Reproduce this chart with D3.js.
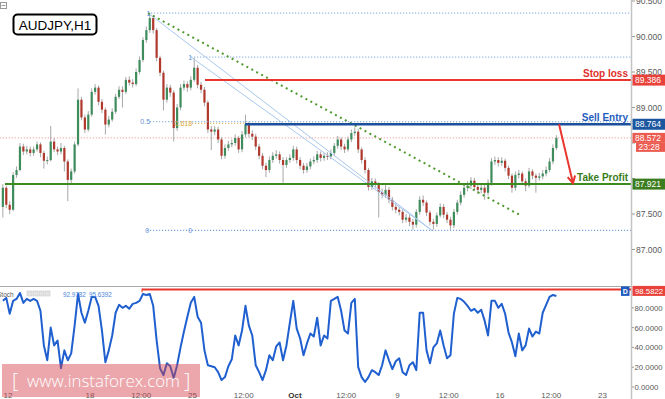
<!DOCTYPE html>
<html lang="en">
<head>
<meta charset="UTF-8">
<title>AUDJPY,H1</title>
<script src="https://d3js.org/d3.v7.min.js"></script>
<style>
body { margin: 0; background: #fff; font-family: "Liberation Sans", Arial, sans-serif; }
svg { display: block; }
</style>
</head>
<body>
<script>
// 4-hour bars. bar i opens at closes[i] and closes at closes[i+1]
var closes = [87.60, 87.87,87.63,87.56,88.05,88.12,88.45,88.38,88.41,88.36,88.41,
  88.48,88.36,88.25,88.26,88.52,88.41,88.38,88.43,88.24,87.98,
  88.10,88.48,89.11,88.86,88.69,88.90,89.22,89.28,89.08,88.97,
  88.76,88.83,88.94,89.15,89.25,89.22,89.39,89.35,89.33,89.50,
  89.67,89.95,90.09,90.26,90.09,89.70,89.49,89.11,89.28,89.21,
  88.71,89.00,89.28,89.33,89.28,89.39,89.56,89.32,89.25,89.07,
  88.69,88.66,88.69,88.55,88.32,88.43,88.48,88.50,88.57,88.41,
  88.62,88.76,88.63,88.59,88.45,88.32,88.18,88.12,88.26,88.32,
  88.34,88.26,88.19,88.26,88.29,88.41,88.26,88.18,88.12,88.17,
  88.24,88.26,88.34,88.29,88.32,88.31,88.36,88.46,88.55,88.45,
  88.41,88.55,88.64,88.66,88.41,88.26,88.12,87.88,87.96,87.91,
  87.81,87.77,87.84,87.70,87.60,87.56,87.53,87.42,87.45,87.39,
  87.35,87.53,87.70,87.66,87.52,87.39,87.36,87.48,87.60,87.49,
  87.42,87.34,87.53,87.66,87.77,87.87,87.90,87.97,87.88,87.84,
  87.87,87.80,87.94,88.24,88.26,88.22,88.25,88.15,88.04,87.87,
  88.05,88.07,87.96,87.90,88.10,88.04,88.01,88.03,88.07,88.12,
  88.24,88.43,88.57];

var highs = [87.92,87.90,87.68,88.09,88.17,88.50,88.49,88.46,88.45,88.45,
  88.52,88.51,88.39,88.31,88.74,88.57,88.45,88.50,88.46,88.27,
  88.14,88.52,89.27,89.15,88.90,88.95,89.27,89.33,89.31,89.12,
  89.00,88.88,88.99,89.19,89.30,89.30,89.43,89.44,89.40,89.55,
  89.72,89.99,90.14,90.33,90.30,90.12,89.73,89.52,89.33,89.32,
  89.24,89.05,89.33,89.38,89.37,89.44,89.70,89.60,89.36,89.29,
  89.10,88.74,88.74,88.73,88.58,88.48,88.53,88.55,88.62,88.60,
  88.67,88.90,88.80,88.68,88.63,88.49,88.36,88.22,88.31,88.37,
  88.40,88.38,88.30,88.30,88.34,88.46,88.45,88.30,88.22,88.22,
  88.28,88.31,88.39,88.38,88.36,88.37,88.41,88.50,88.60,88.58,
  88.49,88.59,88.69,88.72,88.70,88.44,88.30,88.15,88.01,88.00,
  87.95,87.86,87.92,87.88,87.74,87.65,87.60,87.57,87.50,87.49,
  87.43,87.57,87.75,87.76,87.69,87.55,87.43,87.52,87.65,87.64,
  87.53,87.46,87.57,87.70,87.82,87.92,87.96,88.02,88.01,87.93,
  87.93,87.91,87.99,88.29,88.31,88.30,88.30,88.28,88.18,88.07,
  88.10,88.12,88.10,88.00,88.15,88.13,88.07,88.08,88.12,88.17,
  88.29,88.48,88.61];

var lows = [87.45,87.58,87.50,87.54,88.01,88.10,88.33,88.34,88.31,88.32,
  88.38,88.30,88.14,88.20,88.24,88.37,88.33,88.34,88.10,87.68,
  87.93,88.07,88.45,88.82,88.64,88.66,88.87,89.18,89.03,88.92,
  88.62,88.72,88.80,88.91,89.12,89.00,89.19,89.31,89.28,89.30,
  89.47,89.64,89.91,90.05,90.04,89.65,89.44,88.96,89.07,89.15,
  88.52,88.67,88.96,89.24,89.22,89.24,89.36,89.27,89.20,89.02,
  88.64,88.40,88.61,88.50,88.27,88.28,88.39,88.44,88.46,88.36,
  88.37,88.58,88.58,88.54,88.40,88.27,88.13,88.02,88.08,88.22,
  88.28,88.21,87.94,88.15,88.22,88.25,88.21,88.13,88.07,88.08,
  88.13,88.20,88.22,88.24,88.25,88.26,88.27,88.32,88.42,88.40,
  88.36,88.38,88.51,88.60,88.36,88.21,88.07,87.83,87.84,87.86,
  87.45,87.72,87.73,87.65,87.55,87.51,87.48,87.37,87.38,87.33,
  87.28,87.31,87.49,87.61,87.47,87.34,87.28,87.32,87.45,87.44,
  87.37,87.28,87.30,87.49,87.62,87.73,87.82,87.85,87.83,87.78,
  87.79,87.70,87.76,87.90,88.19,88.17,88.18,88.10,87.99,87.80,
  87.83,88.00,87.91,87.82,87.87,87.99,87.80,87.97,87.99,88.03,
  88.09,88.20,88.40];

// stochastic %K, one value per bar
var stoch = [87,90,74,87,89,95,85,89,87,89,
  87,77,42,27,60,42,47,19,37,27,
  34,62,94,75,65,77,91,91,82,57,
  25,37,52,75,83,80,82,79,84,85,
  87,94,93,94,82,47,19,12,24,21,
  9,22,40,56,71,85,91,71,65,37,
  22,21,20,15,7,10,21,28,52,42,
  57,82,62,52,22,15,7,17,32,27,
  41,45,27,42,65,87,59,49,32,44,
  54,51,70,42,52,49,87,89,91,77,
  57,54,85,89,20,10,5,10,17,15,
  12,22,37,27,18,26,29,15,12,22,
  25,17,75,75,37,24,40,44,57,42,
  29,32,74,90,89,86,82,77,79,75,
  78,67,52,87,87,80,84,74,55,45,
  31,54,37,42,59,51,56,54,75,83,
  91,93,92];

// time axis, in trading days from Sep 12 00:00
var xTickDays = [0, 4, 6.5, 9, 11.5, 14, 16.5, 19, 21.5, 24, 26.5, 29];
var xTickLabels = ["12", "18", "12:00", "25", "12:00", "Oct", "12:00", "9", "12:00", "16", "12:00", "23"];

var priceTicks = [87.0, 87.5, 88.0, 88.5, 89.0, 89.5, 90.0, 90.5];
var stochTicks = [0, 20, 40, 60, 80];

var stopLoss = 89.386, sellEntry = 88.764, takeProfit = 87.921, lastPrice = 88.572;
var lastTime = "23:28";
var stochLevel = 98.5822, stochK = 92.9782, stochD = 95.6392;

// fibonacci anchors [day, price]
var fibHigh1 = [6.83, 90.33], fibHigh2 = [8.93, 89.71], fibLow = [20.68, 87.27];
var trendEnd = [25.07, 87.47];

var W = 665, H = 399, plotRight = 631, mainBottom = 286;

var svg = d3.select("body").append("svg")
  .attr("width", W)
  .attr("height", H);

var x = d3.scaleLinear().domain([-0.39, 30.39]).range([0, plotRight]);
var y = d3.scaleLinear().domain([87.0, 90.5]).range([249.5, 1]);
var ys = d3.scaleLinear().domain([0, 100]).range([387, 288]);

function barDay(i) { return -0.25 + i / 6; }

svg.append("defs").append("clipPath").attr("id", "clipMain")
  .append("rect").attr("x", 0).attr("y", 0).attr("width", plotRight).attr("height", mainBottom);

var main = svg.append("g").attr("clip-path", "url(#clipMain)");

function hline(g, d0, price, color, width, dash) {
  return g.append("line")
    .attr("x1", x(d0)).attr("x2", plotRight)
    .attr("y1", y(price)).attr("y2", y(price))
    .attr("stroke", color).attr("stroke-width", width)
    .attr("stroke-dasharray", dash || null);
}

// fib levels (dotted)
var fibBlue = "#78a6df";
hline(main, fibHigh1[0], fibHigh1[1], fibBlue, 1, "1.2,1.8");
hline(main, fibHigh2[0], fibHigh2[1], fibBlue, 1, "1.2,1.8");
hline(main, fibLow[0] - 13.9, fibLow[1], fibBlue, 1.2, "1.2,1.8");
hline(main, fibHigh2[0] + 0.05, fibLow[1] + 0.618 * (fibHigh2[1] - fibLow[1]), "#e0b040", 1, "1.2,1.8");
hline(main, -0.4, lastPrice, "#f08a8a", 1, "1,2");

// candles
var candles = highs.map(function(h, i) {
  return {day: barDay(i), open: closes[i], close: closes[i + 1], high: h, low: lows[i]};
});

main.selectAll(".wick").data(candles).enter().append("line")
  .attr("class", "wick")
  .attr("x1", function(d) { return x(d.day); })
  .attr("x2", function(d) { return x(d.day); })
  .attr("y1", function(d) { return y(d.high); })
  .attr("y2", function(d) { return y(d.low); })
  .attr("stroke", "#a8a8a8").attr("stroke-width", 1);

main.selectAll(".body").data(candles).enter().append("rect")
  .attr("class", "body")
  .attr("x", function(d) { return x(d.day) - 1.1; })
  .attr("width", 2.2)
  .attr("y", function(d) { return y(Math.max(d.open, d.close)); })
  .attr("height", function(d) { return Math.max(1, Math.abs(y(d.open) - y(d.close))); })
  .attr("fill", function(d) { return d.close >= d.open ? "#3e8c5c" : "#b0382c"; });

// fib connectors and trend line
[fibHigh1, fibHigh2].forEach(function(p) {
  main.append("line")
    .attr("x1", x(p[0])).attr("y1", y(p[1]))
    .attr("x2", x(fibLow[0])).attr("y2", y(fibLow[1]))
    .attr("stroke", "#a9c8ee").attr("stroke-width", 1);
});
main.append("line")
  .attr("x1", x(fibHigh1[0])).attr("y1", y(fibHigh1[1]))
  .attr("x2", x(trendEnd[0])).attr("y2", y(trendEnd[1]))
  .attr("stroke", "#4f9a2e").attr("stroke-width", 2).attr("stroke-dasharray", "2,3.6");

// trade levels
hline(main, -0.15, takeProfit, "#3d8a1e", 2);
hline(main, 9.61, stopLoss, "#e8362e", 2);
hline(main, 11.56, sellEntry, "#1c4f9e", 2.5);
hline(main, fibHigh1[0] + 0.1, fibLow[1] + 0.5 * (fibHigh1[1] - fibLow[1]), fibBlue, 1, "1.2,1.8");

// arrow from entry to target
var a0 = [x(26.88), y(sellEntry)], a1 = [x(27.56), y(takeProfit) - 1];
var ang = Math.atan2(a1[1] - a0[1], a1[0] - a0[0]);
main.append("line")
  .attr("x1", a0[0]).attr("y1", a0[1]).attr("x2", a1[0]).attr("y2", a1[1])
  .attr("stroke", "#e8362e").attr("stroke-width", 2);
main.append("path")
  .attr("d", "M" + (a1[0] - 8 * Math.cos(ang - 0.5)) + "," + (a1[1] - 8 * Math.sin(ang - 0.5)) +
    "L" + a1[0] + "," + a1[1] +
    "L" + (a1[0] - 8 * Math.cos(ang + 0.5)) + "," + (a1[1] - 8 * Math.sin(ang + 0.5)))
  .attr("fill", "none").attr("stroke", "#e8362e").attr("stroke-width", 2);

// fib labels
function fibLabel(d, price, txt, color) {
  main.append("text")
    .attr("x", x(d)).attr("y", y(price) + 2.5)
    .attr("text-anchor", "end")
    .attr("font-size", 7).attr("fill", color)
    .text(txt);
}
fibLabel(fibHigh1[0] + 0.12, fibHigh1[1], "1", "#5b8fd6");
fibLabel(fibHigh2[0] + 0.05, fibHigh2[1], "1", "#5b8fd6");
fibLabel(fibHigh1[0] + 0.1, fibLow[1] + 0.5 * (fibHigh1[1] - fibLow[1]), "0.5", "#5b8fd6");
fibLabel(fibHigh2[0] + 0.05, fibLow[1] + 0.618 * (fibHigh2[1] - fibLow[1]), "0.618", "#d9a530");
fibLabel(fibHigh1[0] + 0.05, fibLow[1], "0", "#5b8fd6");
fibLabel(fibHigh2[0] + 0.05, fibLow[1], "0", "#5b8fd6");

// level names
[["Stop loss", stopLoss, "#e0302a"], ["Sell Entry", sellEntry, "#1f5cc0"], ["Take Profit", takeProfit, "#3a7d1c"]]
  .forEach(function(l) {
    svg.append("text")
      .attr("x", plotRight - 3).attr("y", y(l[1]) - 3)
      .attr("text-anchor", "end")
      .attr("font-size", 10).attr("font-weight", "bold")
      .attr("fill", l[2])
      .text(l[0]);
  });

// right axis
svg.append("line")
  .attr("x1", plotRight + 0.5).attr("x2", plotRight + 0.5)
  .attr("y1", 0).attr("y2", H)
  .attr("stroke", "#c4c4c4").attr("stroke-width", 1.5);

var tagPrices = [stopLoss, sellEntry, lastPrice, takeProfit];
var pt = svg.append("g");
priceTicks.forEach(function(p) {
  pt.append("line")
    .attr("x1", plotRight + 1).attr("x2", plotRight + 4)
    .attr("y1", y(p)).attr("y2", y(p))
    .attr("stroke", "#999");
  // a tick label that sits under a price tag is hidden, as on the original
  var hidden = tagPrices.some(function(t) { return Math.abs(y(t) - y(p)) < 6; });
  if (!hidden) {
    pt.append("text")
      .attr("x", plotRight + 5).attr("y", y(p) + 3)
      .attr("font-size", 8.5).attr("fill", "#5a5a5a")
      .text(d3.format(".3f")(p));
  }
});

function tag(yc, txt, color, x0, h, fs) {
  svg.append("rect")
    .attr("x", x0).attr("y", yc - h / 2)
    .attr("width", W - x0).attr("height", h)
    .attr("fill", color);
  svg.append("text")
    .attr("x", x0 + 2.5).attr("y", yc + 3)
    .attr("font-size", fs || 8.5).attr("fill", "#fff")
    .text(txt);
}
tag(y(stopLoss), d3.format(".3f")(stopLoss), "#e8423a", plotRight + 1.5, 11);
tag(y(sellEntry), d3.format(".3f")(sellEntry), "#1c569f", plotRight + 1.5, 11);
tag(y(lastPrice), d3.format(".3f")(lastPrice), "#ec5b4f", plotRight + 1.5, 10);
tag(y(lastPrice) + 9.5, lastTime, "#ec5b4f", plotRight + 5, 9);
tag(y(takeProfit), d3.format(".3f")(takeProfit), "#3b7d1f", plotRight + 1.5, 11);

// stochastic panel
svg.append("line")
  .attr("x1", 0).attr("x2", plotRight)
  .attr("y1", mainBottom + 0.5).attr("y2", mainBottom + 0.5)
  .attr("stroke", "#a8a8a8").attr("stroke-width", 1);

svg.append("line")
  .attr("x1", x(6.54)).attr("x2", plotRight)
  .attr("y1", ys(stochLevel)).attr("y2", ys(stochLevel))
  .attr("stroke", "#e8362e").attr("stroke-width", 2);
svg.append("line")
  .attr("x1", x(6.54)).attr("x2", x(6.54))
  .attr("y1", ys(stochLevel) - 1).attr("y2", ys(stochLevel) + 3)
  .attr("stroke", "#e8362e").attr("stroke-width", 1);

svg.append("path")
  .datum(stoch)
  .attr("d", d3.line()
    .x(function(d, i) { return x(barDay(i)); })
    .y(function(d) { return ys(d); }))
  .attr("fill", "none")
  .attr("stroke", "#1f5fcf").attr("stroke-width", 2)
  .attr("stroke-linejoin", "round");

stochTicks.forEach(function(v) {
  svg.append("line")
    .attr("x1", plotRight + 1).attr("x2", plotRight + 3)
    .attr("y1", ys(v)).attr("y2", ys(v))
    .attr("stroke", "#999");
  svg.append("text")
    .attr("x", plotRight + 3.5).attr("y", ys(v) + 3)
    .attr("font-size", 7.8).attr("fill", "#5a5a5a")
    .text(d3.format(".4f")(v));
});
tag(ys(stochLevel) + 1.5, d3.format(".4f")(stochLevel), "#e8423a", plotRight + 1.5, 10, 7.8);
svg.append("rect")
  .attr("x", plotRight - 10).attr("y", ys(stochLevel) - 3)
  .attr("width", 8.5).attr("height", 9.5)
  .attr("fill", "#1f5cc0");
svg.append("text")
  .attr("x", plotRight - 5.75).attr("y", ys(stochLevel) + 4.5)
  .attr("text-anchor", "middle")
  .attr("font-size", 7).attr("font-weight", "bold").attr("fill", "#fff")
  .text("D");

// stoch legend
svg.append("text")
  .attr("x", -3).attr("y", 297)
  .attr("font-size", 6.5).attr("fill", "#555")
  .text("Stoch");
[27, 33, 39, 45].forEach(function(bx) {
  svg.append("rect")
    .attr("x", bx).attr("y", 291)
    .attr("width", 5).attr("height", 5)
    .attr("fill", "#e4e4e4").attr("stroke", "#c8c8c8").attr("stroke-width", 0.6);
});
svg.append("text")
  .attr("x", 63).attr("y", 297)
  .attr("font-size", 6.3).attr("fill", "#4a86de")
  .text(d3.format(".4f")(stochK));
svg.append("text")
  .attr("x", 89).attr("y", 297)
  .attr("font-size", 6.3).attr("fill", "#4a86de")
  .text(d3.format(".4f")(stochD));

// time axis
xTickDays.forEach(function(d, i) {
  svg.append("text")
    .attr("x", x(d)).attr("y", 398)
    .attr("text-anchor", "middle")
    .attr("font-size", 8)
    .attr("font-weight", xTickLabels[i] === "Oct" ? "bold" : "normal")
    .attr("fill", xTickLabels[i] === "Oct" ? "#333" : "#5a5a5a")
    .text(xTickLabels[i]);
});

// title box
svg.append("rect")
  .attr("x", 13.5).attr("y", 14.5)
  .attr("width", 83).attr("height", 20)
  .attr("rx", 4)
  .attr("fill", "#fff").attr("stroke", "#000").attr("stroke-width", 2);
svg.append("text")
  .attr("x", 55).attr("y", 29.5)
  .attr("text-anchor", "middle")
  .attr("font-size", 13.5).attr("fill", "#000")
  .text("AUDJPY,H1");
svg.append("rect")
  .attr("x", 0.5).attr("y", 2.5).attr("width", 6).attr("height", 6)
  .attr("fill", "none").attr("stroke", "#999").attr("stroke-width", 1);
svg.append("line")
  .attr("x1", 1.5).attr("x2", 5.5).attr("y1", 5.5).attr("y2", 5.5)
  .attr("stroke", "#999");

// watermark
svg.append("rect")
  .attr("x", 2).attr("y", 364)
  .attr("width", 198).attr("height", 33)
  .attr("fill", "rgba(210,60,70,0.45)");
var wm = svg.append("g").attr("fill", "#fff")
  .attr("font-family", "'Open Sans', 'DejaVu Sans', sans-serif")
  .attr("font-weight", 300);
wm.append("text").attr("x", 12).attr("y", 388).attr("font-size", 20).text("[");
wm.append("text").attr("x", 27).attr("y", 387).attr("font-size", 17)
  .attr("textLength", 153).attr("lengthAdjust", "spacingAndGlyphs")
  .text("www.instaforex.com");
wm.append("text").attr("x", 184).attr("y", 388).attr("font-size", 20).text("]");
</script>
</body>
</html>
